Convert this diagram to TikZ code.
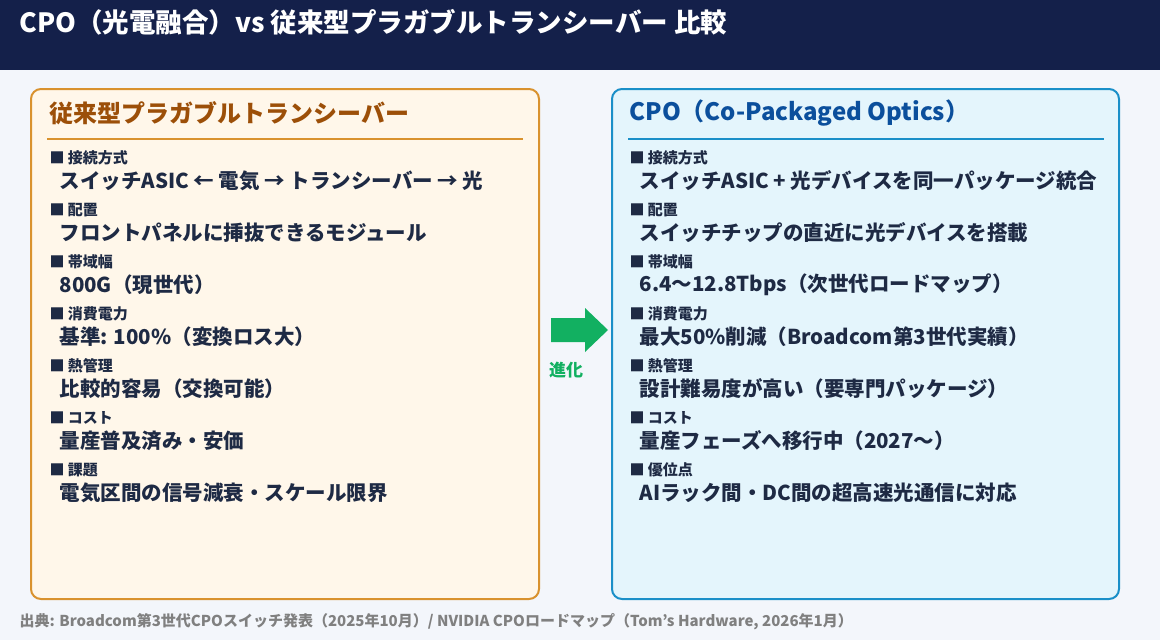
\documentclass[tikz,border=0pt]{standalone}
\usepackage{fontspec}
\setmainfont{Noto Sans CJK JP}
\usetikzlibrary{positioning}
\definecolor{navy}{HTML}{14204A}
\definecolor{pagebg}{HTML}{F3F6FB}
\definecolor{oldfill}{HTML}{FFF7EA}
\definecolor{oldline}{HTML}{D9922E}
\definecolor{oldhead}{HTML}{9C4F08}
\definecolor{newfill}{HTML}{E4F5FC}
\definecolor{newline}{HTML}{1A8FC8}
\definecolor{newhead}{HTML}{0B4F9C}
\definecolor{itemtext}{HTML}{1E2A44}
\definecolor{evolve}{HTML}{12B061}
\tikzset{%
  panel/.style={
    draw,
    line width=2pt,
    rounded corners=10pt
  },
  panel head/.style={
    anchor=west,
    font=\fontsize{24}{28}\selectfont\bfseries
  },
  item key/.style={
    anchor=west,
    text=itemtext,
    font=\fontsize{15}{17}\selectfont\bfseries
  },
  item value/.style={
    anchor=west,
    text=itemtext,
    font=\fontsize{20.5}{23}\selectfont\bfseries
  }
 }
\begin{document}
\begin{tikzpicture}[x=1pt, y=-1pt]

\fill [pagebg] (0,0) rectangle (1160,640);
\fill [navy] (0,0) rectangle (1160,70);
\node [anchor=west, text=white, font=\fontsize{26.5}{30}\selectfont\bfseries]
  (title) at (16,22) {CPO（光電融合）vs 従来型プラガブルトランシーバー 比較};

\draw [panel, draw=oldline, fill=oldfill] (31,89) rectangle (539,599);
\draw [panel, draw=newline, fill=newfill] (612,89) rectangle (1119,599);

\node [panel head, text=oldhead] (old-head) at (46,113) {従来型プラガブルトランシーバー};
\node [panel head, text=newhead] (new-head) at (626,113) {CPO（Co-Packaged Optics）};
\draw [oldline, line width=1.2pt] (47,139) -- (523,139);
\draw [newline, line width=1.2pt] (628,139) -- (1104,139);

\foreach \k/\v [count=\y] in {
  接続方式/{スイッチASIC ← 電気 → トランシーバー → 光},
  配置/{フロントパネルに挿抜できるモジュール},
  帯域幅/{800G（現世代）},
  消費電力/{基準: 100\%（変換ロス大）},
  熱管理/{比較的容易（交換可能）},
  コスト/{量産普及済み・安価},
  課題/{電気区間の信号減衰・スケール限界}}
{
  \node [item key] (old-key-\y) at (46,106+\y*52) {■ \k};
  \node [item value] (old-val-\y) at (56,129+\y*52) {\v};
}

\foreach \k/\v [count=\y] in {
  接続方式/{スイッチASIC + 光デバイスを同一パッケージ統合},
  配置/{スイッチチップの直近に光デバイスを搭載},
  帯域幅/{6.4～12.8Tbps（次世代ロードマップ）},
  消費電力/{最大50\%削減（Broadcom第3世代実績）},
  熱管理/{設計難易度が高い（要専門パッケージ）},
  コスト/{量産フェーズへ移行中（2027～）},
  優位点/{AIラック間・DC間の超高速光通信に対応}}
{
  \node [item key] (new-key-\y) at (626,106+\y*52) {■ \k};
  \node [item value] (new-val-\y) at (636,129+\y*52) {\v};
}

% evolution arrow
\coordinate (arrow) at (551,330);
\fill [evolve] (arrow) ++(0,-12) -- ++(34,0) -- ++(0,-10) -- ++(23,22)
  -- ++(-23,22) -- ++(0,-10) -- ++(-34,0) -- cycle;
\node [text=evolve, font=\fontsize{17}{20}\selectfont\bfseries]
  (arrow-label) at (566,370) {進化};

\node [anchor=west, text=gray, font=\fontsize{15}{17}\selectfont\bfseries] (source) at (16,622)
  {出典: Broadcom第3世代CPOスイッチ発表（2025年10月）/ NVIDIA CPOロードマップ（Tom's Hardware, 2026年1月）};

\end{tikzpicture}
\end{document}
